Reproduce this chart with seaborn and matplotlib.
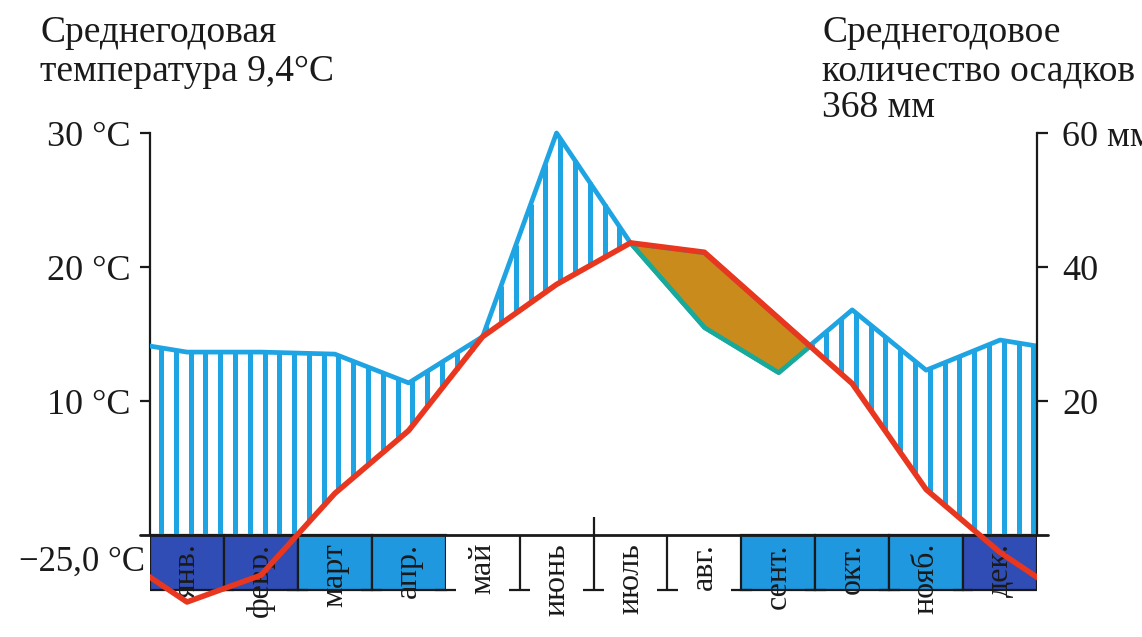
import numpy as np
import matplotlib
matplotlib.use('Agg')
import matplotlib.pyplot as plt
import seaborn as sns

# Monthly climate data
months = ['янв.', 'февр.', 'март', 'апр.', 'май', 'июнь',
          'июль', 'авг.', 'сент.', 'окт.', 'нояб.', 'дек.']
temperature = [-5.0, -3.0, 3.1, 7.8, 14.8, 18.7, 21.8, 21.1, 16.2, 11.3, 3.4, -1.3]   # °C
precipitation = [27.3, 27.3, 27.0, 22.7, 29.6, 60.0, 43.6, 31.0, 24.3, 33.6, 24.6, 29.1]  # mm
band_type = ['frost', 'frost', 'cold', 'cold', 'warm', 'warm',
             'warm', 'warm', 'cold', 'cold', 'cold', 'frost']
temp_ticks = [10, 20, 30]
temp_tick_labels = ['10 °C', '20 °C', '30 °C']
prec_ticks = [20, 40, 60]
prec_tick_labels = ['20', '40', '60 мм']

# Colours
RED = '#e8361f'
BLUE = '#1ea4e2'
DARK = '#2f4db5'
LIGHT = '#1f98df'
ORANGE = '#c98c1c'
TEAL = '#17a99a'
INK = '#1a1a1a'

sns.set_theme(style='white')
plt.rcParams['font.family'] = ['Liberation Serif', 'DejaVu Serif']

W, H = 1142, 637
fig = plt.figure(figsize=(W / 100, H / 100), dpi=100)
fig.patch.set_facecolor('white')

# axes spans month 0..12 horizontally, full height vertically
px_per_deg = 13.4
ax = fig.add_axes([150 / W, 0, 887 / W, 1])
ax.set_xlim(0, 12)
ax.set_ylim(-(H - 535) / px_per_deg, 535 / px_per_deg)
ax.patch.set_visible(False)

# wrap the year round so the lines reach both axes
mx = np.arange(12) + 0.5
x_ext = np.concatenate([[-0.5], mx, [12.5]])
t = np.array(temperature)
p = np.array(precipitation) / 2.0  # 10 °C = 20 mm
t_ext = np.concatenate([[t[-1]], t, [t[0]]])
p_ext = np.concatenate([[p[-1]], p, [p[0]]])

# month band below zero
band_depth = -4.1
face = {'frost': DARK, 'cold': LIGHT, 'warm': 'white'}
for i, kind in enumerate(band_type):
    ax.bar(mx[i], band_depth, bottom=0, width=1, color=face[kind],
           edgecolor=INK if kind != 'warm' else 'none', linewidth=1.6, zorder=2)
ax.vlines([5, 7], band_depth, 0, color=INK, lw=1.6, zorder=3)
ax.vlines([6], band_depth, 1.35, color=INK, lw=1.6, zorder=3)
bounds = np.arange(1, 12)
ax.hlines(np.full(len(bounds), band_depth), bounds - 0.14, bounds + 0.14,
          color=INK, lw=1.6, zorder=3)

for x, name in zip(mx, months):
    ax.text(x, -0.6, name, rotation=90, ha='center', va='top',
            fontsize=23, color=INK, zorder=4)

# humid period hatching
hx = np.arange(0.15, 12, 0.2)
top = np.interp(hx, x_ext, p_ext)
low = np.maximum(np.interp(hx, x_ext, t_ext), 0)
keep = top > low + 0.2
ax.vlines(hx[keep], low[keep], top[keep], color=BLUE, lw=3.6, zorder=3)

# precipitation curve
sns.lineplot(x=x_ext, y=p_ext, ax=ax, color=BLUE, lw=3.4, sort=False, zorder=4)

# arid period (precipitation below temperature)
ax.fill_between(x_ext, p_ext, t_ext, where=p_ext < t_ext, interpolate=True,
                facecolor=ORANGE, edgecolor=TEAL, linewidth=3.4, zorder=5)

# temperature curve
sns.lineplot(x=x_ext, y=t_ext, ax=ax, color=RED, lw=4, sort=False, zorder=6)

# baseline
ax.plot([-0.13, 12.15], [0, 0], color=INK, lw=2, clip_on=False, zorder=5)

# left temperature axis
for s in ['top', 'bottom', 'right']:
    ax.spines[s].set_visible(False)
ax.spines['left'].set_bounds(0, 30)
ax.spines['left'].set_linewidth(1.6)
ax.spines['left'].set_color(INK)
ax.set_xticks([])
ax.set_yticks(temp_ticks, labels=temp_tick_labels)
ax.tick_params(axis='y', direction='out', length=7, width=1.6, pad=7,
               labelsize=26, colors=INK, left=True)

# right precipitation axis
ax2 = ax.twinx()
lo, hi = ax.get_ylim()
ax2.set_ylim(lo * 2, hi * 2)
ax2.patch.set_visible(False)
for s in ['top', 'bottom', 'left']:
    ax2.spines[s].set_visible(False)
ax2.spines['right'].set_bounds(0, 60)
ax2.spines['right'].set_linewidth(1.6)
ax2.spines['right'].set_color(INK)
ax2.set_yticks(prec_ticks, labels=prec_tick_labels)
ax2.tick_params(axis='y', direction='out', length=8, width=1.6, pad=10,
                labelsize=26, colors=INK, right=True)
ax2.grid(False)
ax.grid(False)

ax.text(-0.07, -2.0, '−25,0 °C', ha='right', va='center', fontsize=25, color=INK)

fig.text(40 / W, 1 - 15 / H, 'Среднегодовая\nтемпература 9,4°C',
         ha='left', va='top', fontsize=27, color=INK, linespacing=1.17)
fig.text(822 / W, 1 - 15 / H, 'Среднегодовое\nколичество осадков',
         ha='left', va='top', fontsize=27, color=INK, linespacing=1.17)
fig.text(822 / W, 1 - 108 / H, '368 мм',
         ha='left', va='center', fontsize=27, color=INK)

fig.savefig('out.png', dpi=100, facecolor='white')
